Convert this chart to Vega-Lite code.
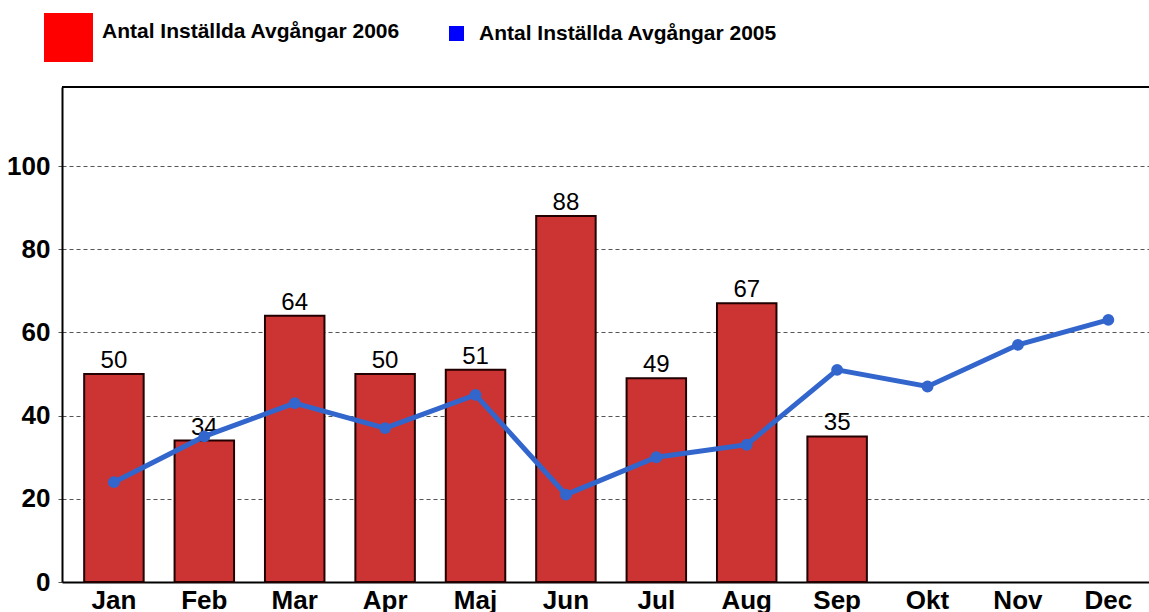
{
  "$schema": "https://vega.github.io/schema/vega-lite/v6.json",
  "width": 1087,
  "height": 495,
  "autosize": {"type": "none"},
  "padding": {"left": 62, "top": 87, "right": 0, "bottom": 30},
  "background": "white",
  "config": {
    "view": {"stroke": null},
    "font": "Liberation Sans",
    "axis": {"labelFont": "Liberation Sans", "labelFontWeight": "bold", "labelFontSize": 26, "labelColor": "black", "domainColor": "black", "domainWidth": 2}
  },
  "data": {
    "values": [
      {"month": "Jan", "v2006": 50, "v2005": 24},
      {"month": "Feb", "v2006": 34, "v2005": 35},
      {"month": "Mar", "v2006": 64, "v2005": 43},
      {"month": "Apr", "v2006": 50, "v2005": 37},
      {"month": "Maj", "v2006": 51, "v2005": 45},
      {"month": "Jun", "v2006": 88, "v2005": 21},
      {"month": "Jul", "v2006": 49, "v2005": 30},
      {"month": "Aug", "v2006": 67, "v2005": 33},
      {"month": "Sep", "v2006": 35, "v2005": 51},
      {"month": "Okt", "v2006": null, "v2005": 47},
      {"month": "Nov", "v2006": null, "v2005": 57},
      {"month": "Dec", "v2006": null, "v2005": 63}
    ]
  },
  "layer": [
    {
      "mark": {"type": "bar", "fill": "#CC3333", "stroke": "#220000", "strokeWidth": 2},
      "encoding": {
        "x": {
          "field": "month", "type": "nominal", "sort": null, "title": null,
          "scale": {"paddingInner": 0.342, "paddingOuter": 0.183, "align": 0.67},
          "axis": {"labelAngle": 0, "ticks": false, "labelPadding": 5, "grid": false}
        },
        "y": {
          "field": "v2006", "type": "quantitative", "title": null,
          "scale": {"domain": [0, 119], "nice": false},
          "axis": {"values": [0, 20, 40, 60, 80, 100], "tickSize": 4, "tickColor": "#555", "labelPadding": 8, "grid": true, "gridDash": [4, 3], "gridColor": "#555", "gridWidth": 1}
        }
      }
    },
    {
      "mark": {"type": "square", "opacity": 0, "size": 10},
      "encoding": {
        "x": {"field": "month", "type": "nominal", "sort": null},
        "y": {"field": "v2006", "type": "quantitative"},
        "fill": {
          "datum": "Antal Inställda Avgångar 2006",
          "scale": {"range": ["#FF0000"]},
          "legend": {
            "title": null, "orient": "none", "legendX": -18, "legendY": -74,
            "padding": 0, "symbolType": "square", "symbolSize": 2401, "symbolStrokeWidth": 0,
            "labelFont": "Liberation Sans", "labelFontSize": 21, "labelFontWeight": "bold", "labelColor": "black", "labelOffset": 9, "labelLimit": 0, "labelBaseline": "alphabetic",
            "encode": {
              "symbols": {"update": {"opacity": {"value": 1}, "fillOpacity": {"value": 1}, "stroke": {"value": "transparent"}}}
            }
          }
        }
      }
    },
    {
      "mark": {"type": "text", "baseline": "alphabetic", "dy": -6, "fontSize": 24, "font": "Liberation Sans", "color": "black"},
      "encoding": {
        "x": {"field": "month", "type": "nominal", "sort": null},
        "y": {"field": "v2006", "type": "quantitative"},
        "text": {"field": "v2006", "type": "quantitative"}
      }
    },
    {
      "mark": {"type": "line", "strokeWidth": 5},
      "encoding": {
        "x": {"field": "month", "type": "nominal", "sort": null},
        "y": {"field": "v2005", "type": "quantitative"},
        "stroke": {
          "datum": "Antal Inställda Avgångar 2005",
          "scale": {"range": ["#3366CC"]},
          "legend": {
            "title": null, "orient": "none", "legendX": 384, "legendY": -64,
            "padding": 0, "symbolType": "square", "symbolSize": 225, "symbolStrokeWidth": 0,
            "labelFont": "Liberation Sans", "labelFontSize": 21, "labelFontWeight": "bold", "labelColor": "black", "labelOffset": 12, "labelLimit": 0,
            "encode": {
              "symbols": {"update": {"fill": {"value": "#0000FF"}, "stroke": {"value": "transparent"}, "fillOpacity": {"value": 1}}}
            }
          }
        }
      }
    },
    {
      "mark": {"type": "point", "filled": true, "size": 140, "color": "#3366CC", "opacity": 1},
      "encoding": {
        "x": {"field": "month", "type": "nominal", "sort": null},
        "y": {"field": "v2005", "type": "quantitative"}
      }
    },
    {
      "mark": {"type": "rule", "color": "black", "strokeWidth": 2},
      "encoding": {
        "y": {"datum": 119}
      }
    }
  ]
}
